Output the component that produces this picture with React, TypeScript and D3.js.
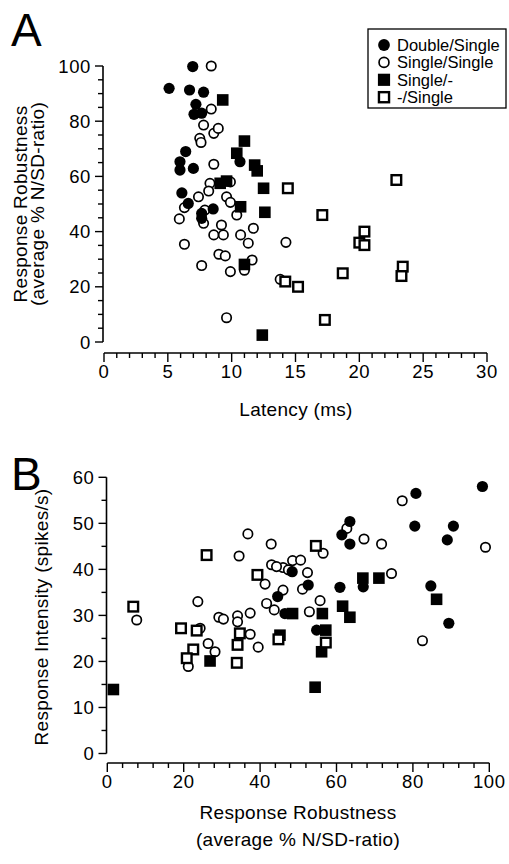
import React from "react";
import * as d3 from "d3";

type P = [number, number];

// Panel A: [latency (ms), response robustness]
const A_DOUBLE_SINGLE: P[] = [
  [6.95, 99.8], [5.1, 91.9], [6.7, 91.3], [7.8, 90.5], [7.2, 86.1], [7.05, 82.5], [7.65, 82.9],
  [6.4, 69], [10.65, 65.3], [5.95, 65.3], [5.95, 62.3], [7.0, 62.9], [6.1, 54], [6.6, 50.2],
  [7.65, 46.6], [7.65, 44.8], [8.55, 48.2],
];
const A_SINGLE_SINGLE: P[] = [
  [8.4, 100], [8.4, 84.4], [7.8, 78.6], [8.6, 75.6], [8.95, 77.4], [7.5, 73.8], [7.6, 72.3],
  [8.6, 64.4], [8.3, 57.5], [7.4, 52.6], [8.2, 54.7], [9.6, 52.6], [9.9, 50.6], [6.3, 48.7],
  [7.9, 47.8], [7.8, 43], [5.9, 44.6], [10.4, 46], [9.2, 42.4], [8.6, 38.8], [9.35, 38.8],
  [10.7, 38.8], [11.7, 41.2], [11.3, 35.8], [6.3, 35.4], [9.0, 31.8], [9.5, 31.2], [11.6, 29.7],
  [11.0, 26], [9.9, 25.5], [7.65, 27.7], [9.6, 8.8], [14.25, 36.1], [13.8, 22.7], [9.9, 58],
];
const A_SINGLE_NONE: P[] = [
  [9.3, 87.7], [11.0, 72.8], [10.4, 68.4], [11.8, 64.1], [12.0, 62], [12.5, 55.7], [9.1, 57.5],
  [9.6, 58.3], [10.7, 49], [12.6, 47], [11.0, 28.1], [12.4, 2.5],
];
const A_NONE_SINGLE: P[] = [
  [14.4, 55.7], [17.1, 46], [22.9, 58.7], [20.4, 40], [20.0, 36], [20.4, 35.1], [14.2, 21.9],
  [15.2, 20], [18.7, 24.9], [23.4, 27.3], [23.3, 23.9], [17.3, 8],
];

// Panel B: [response robustness, response intensity (spikes/s)]
const B_DOUBLE_SINGLE: P[] = [
  [98.2, 58], [80.8, 56.5], [63.5, 50.4], [61.4, 47.5], [63.5, 45.5], [80.5, 49.4], [90.6, 49.4],
  [89, 46.4], [48.4, 39.5], [52.6, 36.6], [60.9, 36.1], [67, 36.2], [84.7, 36.4], [89.4, 28.3],
  [44.6, 34.1], [46.5, 30.4], [54.8, 26.8],
];
const B_SINGLE_SINGLE: P[] = [
  [77.2, 54.9], [62.7, 48.9], [67.2, 46.6], [71.8, 45.5], [99, 44.8], [56.5, 43.5], [48.5, 41.9],
  [50.6, 42], [46, 40.4], [47.4, 39.9], [52.4, 39.3], [51.1, 35.7], [46, 35.5], [74.4, 39.1],
  [55.7, 33.2], [52.9, 30.8], [82.5, 24.5], [36.8, 47.7], [42.9, 45.5], [34.5, 42.9], [43, 41],
  [44.3, 40.6], [41.3, 36.8], [41.7, 32.6], [43.7, 31.2], [7.7, 29], [23.7, 33], [29.2, 29.6],
  [30.4, 29.2], [34.1, 29.9], [34.1, 28.6], [37.4, 30.5], [24.3, 27.2], [26.4, 23.9], [28.2, 22.1],
  [21.2, 18.9], [37.4, 25.9], [39.5, 23.1],
];
const B_SINGLE_NONE: P[] = [
  [66.9, 38.1], [71.1, 38.1], [86.2, 33.5], [61.6, 32], [63.5, 29.6], [56.3, 30.4], [48.5, 30.4],
  [57.2, 26.8], [56.1, 22.1], [54.4, 14.4], [26.9, 20.1], [1.6, 13.9], [45.2, 25.7],
];
const B_NONE_SINGLE: P[] = [
  [26, 43.1], [54.6, 45.1], [39.3, 38.8], [6.8, 31.9], [19.3, 27.2], [23.4, 26.7], [22.5, 22.6],
  [20.8, 20.7], [33.9, 19.7], [34.1, 23.6], [34.7, 26.1], [44.8, 24.8], [57.2, 24.1],
];

const LEGEND_LABELS = ["Double/Single", "Single/Single", "Single/-", "-/Single"];
const LEGEND_KINDS = ["fc", "oc", "fs", "os"];

const A_X_TICKS = d3.range(0, 31, 1);
const A_X_LABELS = [0, 5, 10, 15, 20, 25, 30];
const A_Y_TICKS = d3.range(0, 101, 5);
const A_Y_LABELS = [0, 20, 40, 60, 80, 100];
const B_X_TICKS = d3.range(0, 101, 4);
const B_X_LABELS = [0, 20, 40, 60, 80, 100];
const B_Y_TICKS = d3.range(0, 61, 5);
const B_Y_LABELS = [0, 10, 20, 30, 40, 50, 60];

const FONT = "'Liberation Sans', Arial, Helvetica, sans-serif";

function Marker({ kind, x, y, s = 1 }: { kind: string; x: number; y: number; s?: number }) {
  if (kind === "fc") return <circle cx={x} cy={y} r={5.6 * s} fill="#000" />;
  if (kind === "oc") return <circle cx={x} cy={y} r={4.7 * s} fill="#fff" stroke="#000" strokeWidth={1.7} />;
  if (kind === "fs") return <rect x={x - 5.8 * s} y={y - 5.8 * s} width={11.6 * s} height={11.6 * s} fill="#000" />;
  return <rect x={x - 4.8 * s} y={y - 4.8 * s} width={9.6 * s} height={9.6 * s} fill="#fff" stroke="#000" strokeWidth={2.4} />;
}

function Panel(props: {
  x: d3.ScaleLinear<number, number>;
  y: d3.ScaleLinear<number, number>;
  yAxisX: number;
  xAxisY: number;
  xTicks: number[];
  xLabels: number[];
  yTicks: number[];
  yLabels: number[];
  series: { kind: string; data: P[] }[];
}) {
  const { x, y, yAxisX, xAxisY, xTicks, xLabels, yTicks, yLabels, series } = props;
  const [x0, x1] = x.range();
  const [y0, y1] = y.range();
  return (
    <g>
      <line x1={yAxisX} x2={yAxisX} y1={y0} y2={y1} stroke="#000" strokeWidth={1.6} />
      {yTicks.map((t) => {
        const major = yLabels.includes(t);
        return (
          <line key={"yt" + t} x1={yAxisX} x2={yAxisX - (major ? 8 : 5)} y1={y(t)} y2={y(t)} stroke="#000" strokeWidth={1.4} />
        );
      })}
      {yLabels.map((t) => (
        <text key={"yl" + t} x={yAxisX - 12} y={y(t)} dy="0.36em" textAnchor="end" fontSize={18.5} fontFamily={FONT} letterSpacing={0.6}>
          {t}
        </text>
      ))}
      <line x1={x0} x2={x1} y1={xAxisY} y2={xAxisY} stroke="#000" strokeWidth={1.6} />
      {xTicks.map((t) => {
        const major = xLabels.includes(t);
        return (
          <line key={"xt" + t} x1={x(t)} x2={x(t)} y1={xAxisY} y2={xAxisY + (major ? 9 : 5)} stroke="#000" strokeWidth={1.4} />
        );
      })}
      {xLabels.map((t) => (
        <text key={"xl" + t} x={x(t)} y={xAxisY + 25} textAnchor="middle" fontSize={18.5} fontFamily={FONT} letterSpacing={0.6}>
          {t}
        </text>
      ))}
      {series.map((s) =>
        s.data.map((d, i) => <Marker key={s.kind + i} kind={s.kind} x={x(d[0])} y={y(d[1])} />)
      )}
    </g>
  );
}

export default function App() {
  const ax = d3.scaleLinear().domain([0, 30]).range([104, 487]);
  const ay = d3.scaleLinear().domain([0, 100]).range([342, 66]);
  const bx = d3.scaleLinear().domain([0, 100]).range([107.3, 489.3]);
  const by = d3.scaleLinear().domain([0, 60]).range([753.5, 477.3]);

  const legendX = 368;
  const legendY = 29;
  const legendRow = 17.4;

  return (
    <svg width={509} height={864} style={{ position: "absolute", left: 0, top: 0, background: "#fff" }}>
      <rect x={0} y={0} width={509} height={864} fill="#fff" />
      <text x={11} y={46} fontSize={46} fontFamily={FONT}>A</text>
      <text x={11} y={490} fontSize={46} fontFamily={FONT}>B</text>

      <Panel
        x={ax}
        y={ay}
        yAxisX={103}
        xAxisY={353}
        xTicks={A_X_TICKS}
        xLabels={A_X_LABELS}
        yTicks={A_Y_TICKS}
        yLabels={A_Y_LABELS}
        series={[
          { kind: "oc", data: A_SINGLE_SINGLE },
          { kind: "fc", data: A_DOUBLE_SINGLE },
          { kind: "fs", data: A_SINGLE_NONE },
          { kind: "os", data: A_NONE_SINGLE },
        ]}
      />
      <Panel
        x={bx}
        y={by}
        yAxisX={106.5}
        xAxisY={763}
        xTicks={B_X_TICKS}
        xLabels={B_X_LABELS}
        yTicks={B_Y_TICKS}
        yLabels={B_Y_LABELS}
        series={[
          { kind: "oc", data: B_SINGLE_SINGLE },
          { kind: "fc", data: B_DOUBLE_SINGLE },
          { kind: "fs", data: B_SINGLE_NONE },
          { kind: "os", data: B_NONE_SINGLE },
        ]}
      />

      <text x={296} y={416} textAnchor="middle" fontSize={19} fontFamily={FONT} letterSpacing={0.3}>Latency (ms)</text>
      <text transform="translate(27,204) rotate(-90)" textAnchor="middle" fontSize={19} fontFamily={FONT} letterSpacing={0.3}>Response Robustness</text>
      <text transform="translate(44,204) rotate(-90)" textAnchor="middle" fontSize={19} fontFamily={FONT} letterSpacing={0.3}>(average % N/SD-ratio)</text>
      <text transform="translate(48,617) rotate(-90)" textAnchor="middle" fontSize={19} fontFamily={FONT} letterSpacing={0.3}>Response Intensity (spikes/s)</text>
      <text x={298} y={819} textAnchor="middle" fontSize={19} fontFamily={FONT} letterSpacing={0.3}>Response Robustness</text>
      <text x={298} y={846} textAnchor="middle" fontSize={19} fontFamily={FONT} letterSpacing={0.3}>(average % N/SD-ratio)</text>

      <rect x={legendX} y={legendY} width={138} height={79} fill="#fff" stroke="#000" strokeWidth={1.3} />
      {LEGEND_LABELS.map((l, i) => (
        <g key={l}>
          <Marker kind={LEGEND_KINDS[i]} x={legendX + 16} y={legendY + 16 + i * legendRow} s={1.05} />
          <text x={legendX + 29} y={legendY + 16 + i * legendRow} dy="0.36em" fontSize={16.5} fontFamily={FONT}>
            {l}
          </text>
        </g>
      ))}
    </svg>
  );
}
